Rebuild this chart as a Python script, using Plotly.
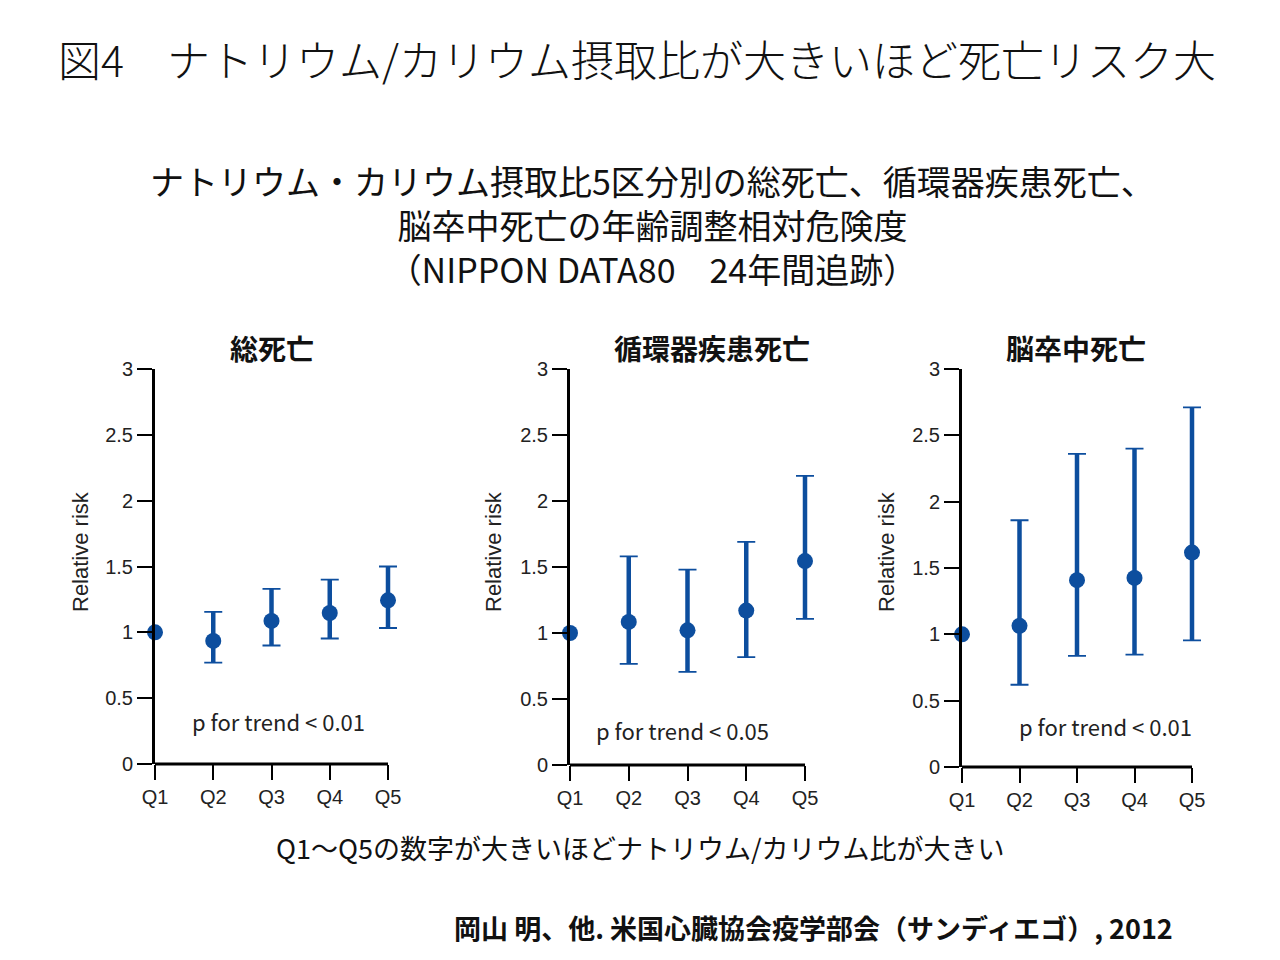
import plotly.graph_objects as go

categories = ["Q1", "Q2", "Q3", "Q4", "Q5"]
panel_titles = ["総死亡", "循環器疾患死亡", "脳卒中死亡"]
p_texts = ["p for trend < 0.01", "p for trend < 0.05", "p for trend < 0.01"]

total_rr = [1.00, 0.935, 1.087, 1.147, 1.243]
total_hi = [None, 1.155, 1.33, 1.40, 1.50]
total_lo = [None, 0.77, 0.90, 0.953, 1.033]

cvd_rr = [1.00, 1.084, 1.02, 1.17, 1.545]
cvd_hi = [None, 1.58, 1.48, 1.69, 2.19]
cvd_lo = [None, 0.766, 0.706, 0.817, 1.107]

stroke_rr = [1.00, 1.064, 1.408, 1.425, 1.616]
stroke_hi = [None, 1.86, 2.36, 2.40, 2.71]
stroke_lo = [None, 0.62, 0.837, 0.847, 0.955]

y_ticks = [0, 0.5, 1, 1.5, 2, 2.5, 3]
y_ticklabels = ["0", "0.5", "1", "1.5", "2", "2.5", "3"]

W, H = 1280, 960
XMAX = 4.2  # a little room right of Q5 so its cap is not clipped
# pixel boxes for the panels (left, Q5-x, top, bottom)
boxes = [(155, 388, 369, 764), (570, 805, 369, 765), (962, 1192, 369, 767)]
title_x = [272, 712, 1076]
ptext_x = [278, 682, 1105]
ptext_y = [721, 730, 726]
ytitle_x = [80, 493, 886]

series = [(total_rr, total_hi, total_lo), (cvd_rr, cvd_hi, cvd_lo), (stroke_rr, stroke_hi, stroke_lo)]

BLUE = "#0d4e9e"
JP = "Noto Sans CJK JP"
NUM = "Liberation Sans"

fig = go.Figure()
annotations = []
shapes = []
for i, ((rr, hi, lo), (l, q5, t, b)) in enumerate(zip(series, boxes)):
    ax = "" if i == 0 else str(i + 1)
    xs = list(range(len(categories)))
    idx = [k for k in xs if hi[k] is not None]
    ex = [xs[k] for k in idx]
    ey = [rr[k] for k in idx]
    plus = [hi[k] - rr[k] for k in idx]
    minus = [rr[k] - lo[k] for k in idx]
    # stems (thick)
    fig.add_trace(go.Scatter(
        x=ex, y=ey, mode="markers", marker=dict(color=BLUE, size=1, opacity=0),
        error_y=dict(type="data", symmetric=False, array=plus, arrayminus=minus,
                     color=BLUE, thickness=4.5, width=0),
        xaxis="x" + ax, yaxis="y" + ax, cliponaxis=False, showlegend=False, hoverinfo="skip",
    ))
    # caps (thin)
    fig.add_trace(go.Scatter(
        x=ex, y=ey, mode="markers", marker=dict(color=BLUE, size=1, opacity=0),
        error_y=dict(type="data", symmetric=False, array=plus, arrayminus=minus,
                     color=BLUE, thickness=1.8, width=9),
        xaxis="x" + ax, yaxis="y" + ax, cliponaxis=False, showlegend=False, hoverinfo="skip",
    ))
    # points
    fig.add_trace(go.Scatter(
        x=xs, y=rr, mode="markers", marker=dict(color=BLUE, size=16),
        xaxis="x" + ax, yaxis="y" + ax, cliponaxis=False, showlegend=False,
    ))
    r = l + (q5 - l) * XMAX / 4
    fig.layout["xaxis" + ax] = dict(
        domain=[l / W, r / W], range=[0, XMAX], anchor="y" + ax, automargin=False,
        tickmode="array", tickvals=xs, ticktext=categories,
        ticks="outside", ticklen=15, tickwidth=1.5, tickcolor="black",
        showline=False, showgrid=False, zeroline=False,
        tickfont=dict(family=NUM, size=20, color="#222"),
    )
    fig.layout["yaxis" + ax] = dict(
        domain=[1 - b / H, 1 - t / H], range=[0, 3], anchor="x" + ax, automargin=False,
        tickmode="array", tickvals=y_ticks, ticktext=y_ticklabels,
        ticks="outside", ticklen=15, tickwidth=1.5, tickcolor="black",
        showline=True, linecolor="black", linewidth=3, showgrid=False, zeroline=False,
        tickfont=dict(family=NUM, size=20, color="#222"),
    )
    # x axis line ending at Q5
    shapes.append(dict(type="line", xref=f"x{ax} domain", yref=f"y{ax} domain",
                       x0=0, x1=4 / XMAX, y0=0, y1=0, line=dict(color="black", width=3)))
    annotations.append(dict(text="<b>" + panel_titles[i] + "</b>", x=title_x[i] / W, y=1 - 348 / H,
                            xref="paper", yref="paper", showarrow=False,
                            font=dict(family=JP, size=28, color="#111"), xanchor="center", yanchor="middle"))
    annotations.append(dict(text=p_texts[i], x=ptext_x[i] / W, y=1 - ptext_y[i] / H,
                            xref="paper", yref="paper", showarrow=False,
                            font=dict(family=JP, size=22, color="#222"), xanchor="center", yanchor="middle"))
    annotations.append(dict(text="Relative risk", x=ytitle_x[i] / W, y=1 - 552 / H,
                            xref="paper", yref="paper", showarrow=False, textangle=-90,
                            font=dict(family=NUM, size=22, color="#222"), xanchor="center", yanchor="middle"))

annotations += [
    dict(text="図4　ナトリウム/カリウム摂取比が大きいほど死亡リスク大", x=637 / W, y=1 - 58 / H,
         font=dict(family=JP, size=43, color="#111", weight=300)),
    dict(text="ナトリウム・カリウム摂取比5区分別の総死亡、循環器疾患死亡、<br>"
              "脳卒中死亡の年齢調整相対危険度<br>"
              "（NIPPON DATA80　24年間追跡）",
         x=652 / W, y=1 - 224 / H, align="center",
         font=dict(family=JP, size=34, color="#111")),
    dict(text="Q1～Q5の数字が大きいほどナトリウム/カリウム比が大きい", x=640 / W, y=1 - 847 / H,
         font=dict(family=JP, size=27, color="#111")),
    dict(text="<b>岡山 明、他. 米国心臓協会疫学部会（サンディエゴ）, 2012</b>", x=813 / W, y=1 - 927 / H,
         font=dict(family=JP, size=27, color="#111")),
]
for a in annotations[-4:]:
    a.update(xref="paper", yref="paper", showarrow=False, xanchor="center", yanchor="middle")

fig.update_layout(
    template="none",
    width=W, height=H, margin=dict(l=0, r=0, t=0, b=0, pad=0),
    paper_bgcolor="white", plot_bgcolor="white",
    annotations=annotations, shapes=shapes, showlegend=False,
)
fig.write_html("out.html")
